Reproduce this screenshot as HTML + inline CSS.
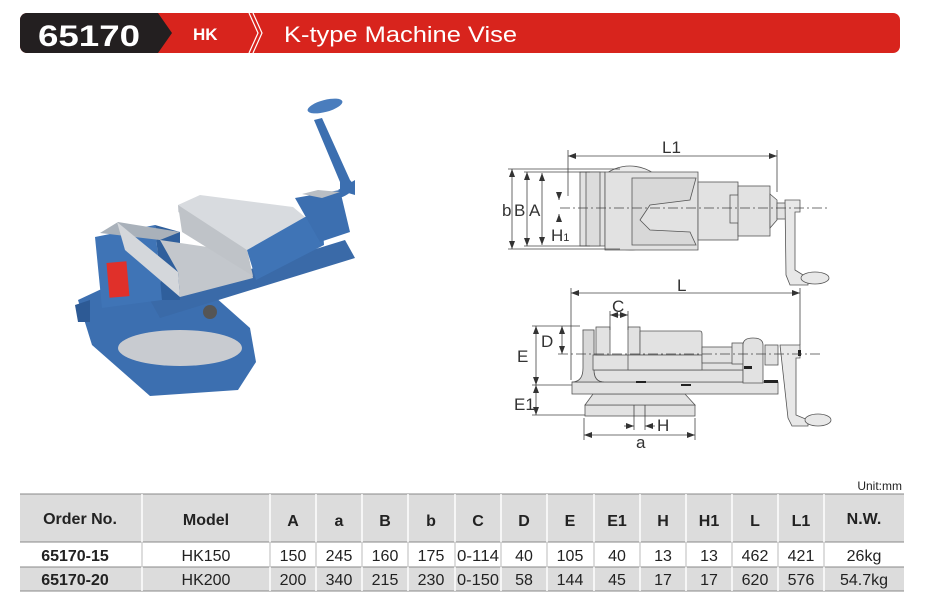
<!DOCTYPE html>
<html><head><meta charset="utf-8"><style>
body{margin:0;width:930px;height:600px;background:#fff;overflow:hidden;font-family:"Liberation Sans",sans-serif;}
svg{position:absolute;left:0;top:0}
</style></head><body>
<svg width="930" height="600" viewBox="0 0 930 600" xmlns="http://www.w3.org/2000/svg" font-family="Liberation Sans, sans-serif">
<defs>
<marker id="ar" markerWidth="8" markerHeight="6" refX="8" refY="3" orient="auto-start-reverse" markerUnits="userSpaceOnUse"><path d="M0 0 L8 3 L0 6Z" fill="#333"/></marker>
</defs>
<!-- header -->
<rect x="20" y="13" width="880" height="40" rx="7" fill="#d8241d"/>
<path d="M27 13 H158 L172 33 L158 53 H27 A7 7 0 0 1 20 46 V20 A7 7 0 0 1 27 13Z" fill="#231f20"/>
<path d="M249 13 L258 33 L249 53 M253 13 L262 33 L253 53" stroke="#fff" stroke-width="1.2" fill="none"/>
<text x="38" y="46" fill="#fff" font-size="30" font-weight="bold" textLength="102" lengthAdjust="spacingAndGlyphs">65170</text>
<text x="193" y="40" fill="#fff" font-size="17" font-weight="bold">HK</text>
<text x="284" y="42" fill="#fff" font-size="22" textLength="233" lengthAdjust="spacingAndGlyphs">K-type Machine Vise</text>

<!-- photo vise -->
<g stroke="none">
<path d="M78 300 L125 278 L205 288 L250 328 L256 362 L238 390 L150 396 L92 345 Z" fill="#3c6fb0"/>
<path d="M75 305 L90 300 L90 322 L78 322Z" fill="#2d5a95"/>
<ellipse cx="180" cy="348" rx="62" ry="18" fill="#c8cbd0"/>
<path d="M150 300 L345 240 L355 258 L160 318Z" fill="#3a6aa8"/>
<path d="M95 237 L155 225 L162 300 L102 308 Z" fill="#3f74b6"/>
<path d="M155 225 L180 232 L180 300 L162 300Z" fill="#2f5f9c"/>
<path d="M100 233 L118 222 L180 232 L160 240Z" fill="#a9b1ba"/>
<path d="M117 222 L178 272 L180 297 L125 250Z" fill="#d4d7db"/>
<path d="M160 240 L248 253 L253 278 L180 297 L178 272Z" fill="#c3c7cc"/>
<path d="M178 205 L200 195 L293 207 L305 217 L247 250 L178 212Z" fill="#d8dbdf"/>
<path d="M178 205 L247 250 L253 276 L182 232Z" fill="#bfc3c8"/>
<path d="M247 250 L305 217 L322 215 L324 245 L256 280Z" fill="#3f74b6"/>
<path d="M295 198 L340 190 L350 232 L320 242 Z" fill="#3c6fb0"/>
<path d="M302 194 L318 190 L340 192 L322 198Z" fill="#b9bec4"/>
<path d="M338 190 L355 180 L355 195 Z" fill="#3c6fb0"/>
<path d="M340 198 Q360 190 350 180 L322 118 L314 120 L340 182 Z" fill="#3c6fb0"/>
<ellipse cx="325" cy="106" rx="18" ry="6" transform="rotate(-15 325 106)" fill="#4a7dbd"/>
<rect x="108" y="262" width="20" height="35" fill="#e0302a" transform="rotate(-5 118 280)"/>
<circle cx="210" cy="312" r="7" fill="#555"/>
</g>

<!-- top view drawing -->
<g stroke="#555" stroke-width="0.8" fill="#e2e2e2">
<circle cx="630" cy="208" r="42" fill="#ececec"/>
<rect x="580" y="172" width="25" height="74"/>
<rect x="586" y="172" width="14" height="74" fill="#dcdcdc"/>
<path d="M605 172 H698 V250 H605Z"/>
<path d="M632 178 H696 L690 200 L650 205 L640 220 L650 230 L690 232 L696 245 H632Z" fill="#d8d8d8"/>
<rect x="698" y="182" width="40" height="58"/>
<rect x="730" y="195" width="12" height="28"/>
<rect x="738" y="186" width="32" height="50"/>
<path d="M770 194 L777 200 V220 L770 228Z"/>
<rect x="777" y="203" width="10" height="16"/>
<path d="M785 200 H800 V212 H795 V270 L808 278 V285 H790 L786 275 Z" fill="#e8e8e8"/>
<ellipse cx="815" cy="278" rx="14" ry="6" fill="#e8e8e8"/>
</g>
<g stroke="#444" stroke-width="0.8" fill="none">
<line x1="568" y1="156" x2="777" y2="156" marker-start="url(#ar)" marker-end="url(#ar)"/>
<line x1="568" y1="150" x2="568" y2="196"/>
<line x1="777" y1="150" x2="777" y2="192"/>
<line x1="512" y1="169" x2="512" y2="249" marker-start="url(#ar)" marker-end="url(#ar)"/>
<line x1="527" y1="172" x2="527" y2="246" marker-start="url(#ar)" marker-end="url(#ar)"/>
<line x1="542" y1="173" x2="542" y2="245" marker-start="url(#ar)" marker-end="url(#ar)"/>
<line x1="508" y1="169" x2="620" y2="169"/>
<line x1="524" y1="172" x2="590" y2="172"/>
<line x1="524" y1="246" x2="590" y2="246"/>
<line x1="508" y1="249" x2="620" y2="249"/>
<line x1="560" y1="208" x2="830" y2="208" stroke-dasharray="10 3 2 3"/>
<line x1="559" y1="193" x2="559" y2="200" marker-end="url(#ar)"/>
<line x1="559" y1="222" x2="559" y2="214" marker-end="url(#ar)"/>
</g>
<g fill="#333" font-size="17">
<text x="662" y="153">L1</text>
<text x="502" y="216">b</text>
<text x="514" y="216">B</text>
<text x="529" y="216">A</text>
<text x="551" y="241">H<tspan font-size="11">1</tspan></text>
</g>

<!-- side view drawing -->
<g stroke="#555" stroke-width="0.8" fill="#e2e2e2">
<rect x="585" y="405" width="110" height="11"/>
<path d="M593 394 H685 L695 405 H585 Z"/>
<rect x="572" y="382" width="206" height="12"/>
<path d="M583 330 H594 V370 Q594 382 604 382 H743 V370 H593 Z"/>
<path d="M583 330 V368 Q583 382 572 382 H604 Q594 382 594 370 V330Z" fill="#d8d8d8"/>
<rect x="593" y="355" width="150" height="15"/>
<rect x="596" y="327" width="14" height="28"/>
<rect x="628" y="327" width="12" height="28"/>
<path d="M640 331 H700 Q702 331 702 334 V355 H640Z"/>
<rect x="628" y="355" width="74" height="15"/>
<rect x="702" y="347" width="31" height="16"/>
<rect x="732" y="343" width="11" height="21"/>
<path d="M743 345 Q743 338 753 338 Q763 338 763 345 V383 H743Z"/>
<rect x="765" y="345" width="13" height="20"/>
<path d="M780 345 H800 V358 H796 V415 L808 420 V426 H792 L788 418 Z" fill="#e8e8e8"/>
<ellipse cx="818" cy="420" rx="13" ry="6" fill="#e8e8e8"/>
</g>
<g fill="#222"><rect x="636" y="381" width="10" height="2"/><rect x="681" y="384" width="10" height="2"/><rect x="744" y="366" width="8" height="3"/><rect x="764" y="380" width="14" height="3"/><rect x="798" y="350" width="3" height="6"/></g>
<g stroke="#444" stroke-width="0.8" fill="none">
<line x1="571" y1="293" x2="800" y2="293" marker-start="url(#ar)" marker-end="url(#ar)"/>
<line x1="571" y1="288" x2="571" y2="380"/>
<line x1="800" y1="288" x2="800" y2="345"/>
<line x1="610" y1="315" x2="628" y2="315" marker-start="url(#ar)" marker-end="url(#ar)"/>
<line x1="610" y1="311" x2="610" y2="330"/>
<line x1="628" y1="311" x2="628" y2="330"/>
<line x1="562" y1="326" x2="562" y2="354" marker-start="url(#ar)" marker-end="url(#ar)"/>
<line x1="536" y1="326" x2="536" y2="385" marker-start="url(#ar)" marker-end="url(#ar)"/>
<line x1="536" y1="385" x2="536" y2="415" marker-start="url(#ar)" marker-end="url(#ar)"/>
<line x1="532" y1="326" x2="580" y2="326"/>
<line x1="532" y1="385" x2="572" y2="385"/>
<line x1="532" y1="415" x2="585" y2="415"/>
<line x1="558" y1="354" x2="820" y2="354" stroke-dasharray="10 3 2 3"/>
<line x1="584" y1="435" x2="695" y2="435" marker-start="url(#ar)" marker-end="url(#ar)"/>
<line x1="584" y1="418" x2="584" y2="440"/>
<line x1="695" y1="418" x2="695" y2="440"/>
<line x1="634" y1="405" x2="634" y2="430"/>
<line x1="645" y1="405" x2="645" y2="430"/>
<line x1="624" y1="426" x2="634" y2="426" marker-end="url(#ar)"/>
<line x1="655" y1="426" x2="645" y2="426" marker-end="url(#ar)"/>
</g>
<g fill="#333" font-size="17">
<text x="677" y="291">L</text>
<text x="612" y="312">C</text>
<text x="541" y="347">D</text>
<text x="517" y="362">E</text>
<text x="514" y="410">E1</text>
<text x="657" y="431">H</text>
<text x="636" y="448">a</text>
</g>

<!-- table -->
<text x="902" y="490" font-size="12" text-anchor="end" fill="#222">Unit:mm</text>
<rect x="20" y="494" width="884" height="48" fill="#dcdcdc"/>
<rect x="20" y="567" width="884" height="24" fill="#dcdcdc"/>
<g stroke="#888" stroke-width="1">
<line x1="20" y1="494" x2="904" y2="494"/>
<line x1="20" y1="542" x2="904" y2="542"/>
<line x1="20" y1="567" x2="904" y2="567"/>
<line x1="20" y1="591" x2="904" y2="591"/>
</g>
<g stroke="#fff" stroke-width="1.5">
<line x1="142" y1="494" x2="142" y2="591"/><line x1="270" y1="494" x2="270" y2="591"/><line x1="316" y1="494" x2="316" y2="591"/><line x1="362" y1="494" x2="362" y2="591"/><line x1="408" y1="494" x2="408" y2="591"/><line x1="455" y1="494" x2="455" y2="591"/><line x1="501" y1="494" x2="501" y2="591"/><line x1="547" y1="494" x2="547" y2="591"/><line x1="594" y1="494" x2="594" y2="591"/><line x1="640" y1="494" x2="640" y2="591"/><line x1="686" y1="494" x2="686" y2="591"/><line x1="732" y1="494" x2="732" y2="591"/><line x1="778" y1="494" x2="778" y2="591"/><line x1="824" y1="494" x2="824" y2="591"/>
</g>
<g stroke="#bbb" stroke-width="1">
<line x1="142" y1="542" x2="142" y2="567"/><line x1="270" y1="542" x2="270" y2="567"/><line x1="316" y1="542" x2="316" y2="567"/><line x1="362" y1="542" x2="362" y2="567"/><line x1="408" y1="542" x2="408" y2="567"/><line x1="455" y1="542" x2="455" y2="567"/><line x1="501" y1="542" x2="501" y2="567"/><line x1="547" y1="542" x2="547" y2="567"/><line x1="594" y1="542" x2="594" y2="567"/><line x1="640" y1="542" x2="640" y2="567"/><line x1="686" y1="542" x2="686" y2="567"/><line x1="732" y1="542" x2="732" y2="567"/><line x1="778" y1="542" x2="778" y2="567"/><line x1="824" y1="542" x2="824" y2="567"/>
</g>
<g font-size="16" font-weight="bold" fill="#222" text-anchor="middle">
<text x="80" y="524">Order No.</text><text x="206" y="525">Model</text>
<text x="293" y="526">A</text><text x="339" y="526">a</text><text x="385" y="526">B</text><text x="431" y="526">b</text><text x="478" y="526">C</text><text x="524" y="526">D</text><text x="570" y="526">E</text><text x="617" y="526">E1</text><text x="663" y="526">H</text><text x="709" y="526">H1</text><text x="755" y="526">L</text><text x="801" y="526">L1</text><text x="864" y="524">N.W.</text>
<text x="75" y="561">65170-15</text><text x="75" y="585">65170-20</text>
</g>
<g font-size="16" fill="#222" text-anchor="middle">
<text x="206" y="561">HK150</text><text x="293" y="561">150</text><text x="339" y="561">245</text><text x="385" y="561">160</text><text x="431" y="561">175</text><text x="478" y="561" textLength="42" lengthAdjust="spacingAndGlyphs">0-114</text><text x="524" y="561">40</text><text x="570" y="561">105</text><text x="617" y="561">40</text><text x="663" y="561">13</text><text x="709" y="561">13</text><text x="755" y="561">462</text><text x="801" y="561">421</text><text x="864" y="561">26kg</text>
<text x="206" y="585">HK200</text><text x="293" y="585">200</text><text x="339" y="585">340</text><text x="385" y="585">215</text><text x="431" y="585">230</text><text x="478" y="585" textLength="42" lengthAdjust="spacingAndGlyphs">0-150</text><text x="524" y="585">58</text><text x="570" y="585">144</text><text x="617" y="585">45</text><text x="663" y="585">17</text><text x="709" y="585">17</text><text x="755" y="585">620</text><text x="801" y="585">576</text><text x="864" y="585">54.7kg</text>
</g>
</svg>
</body></html>
